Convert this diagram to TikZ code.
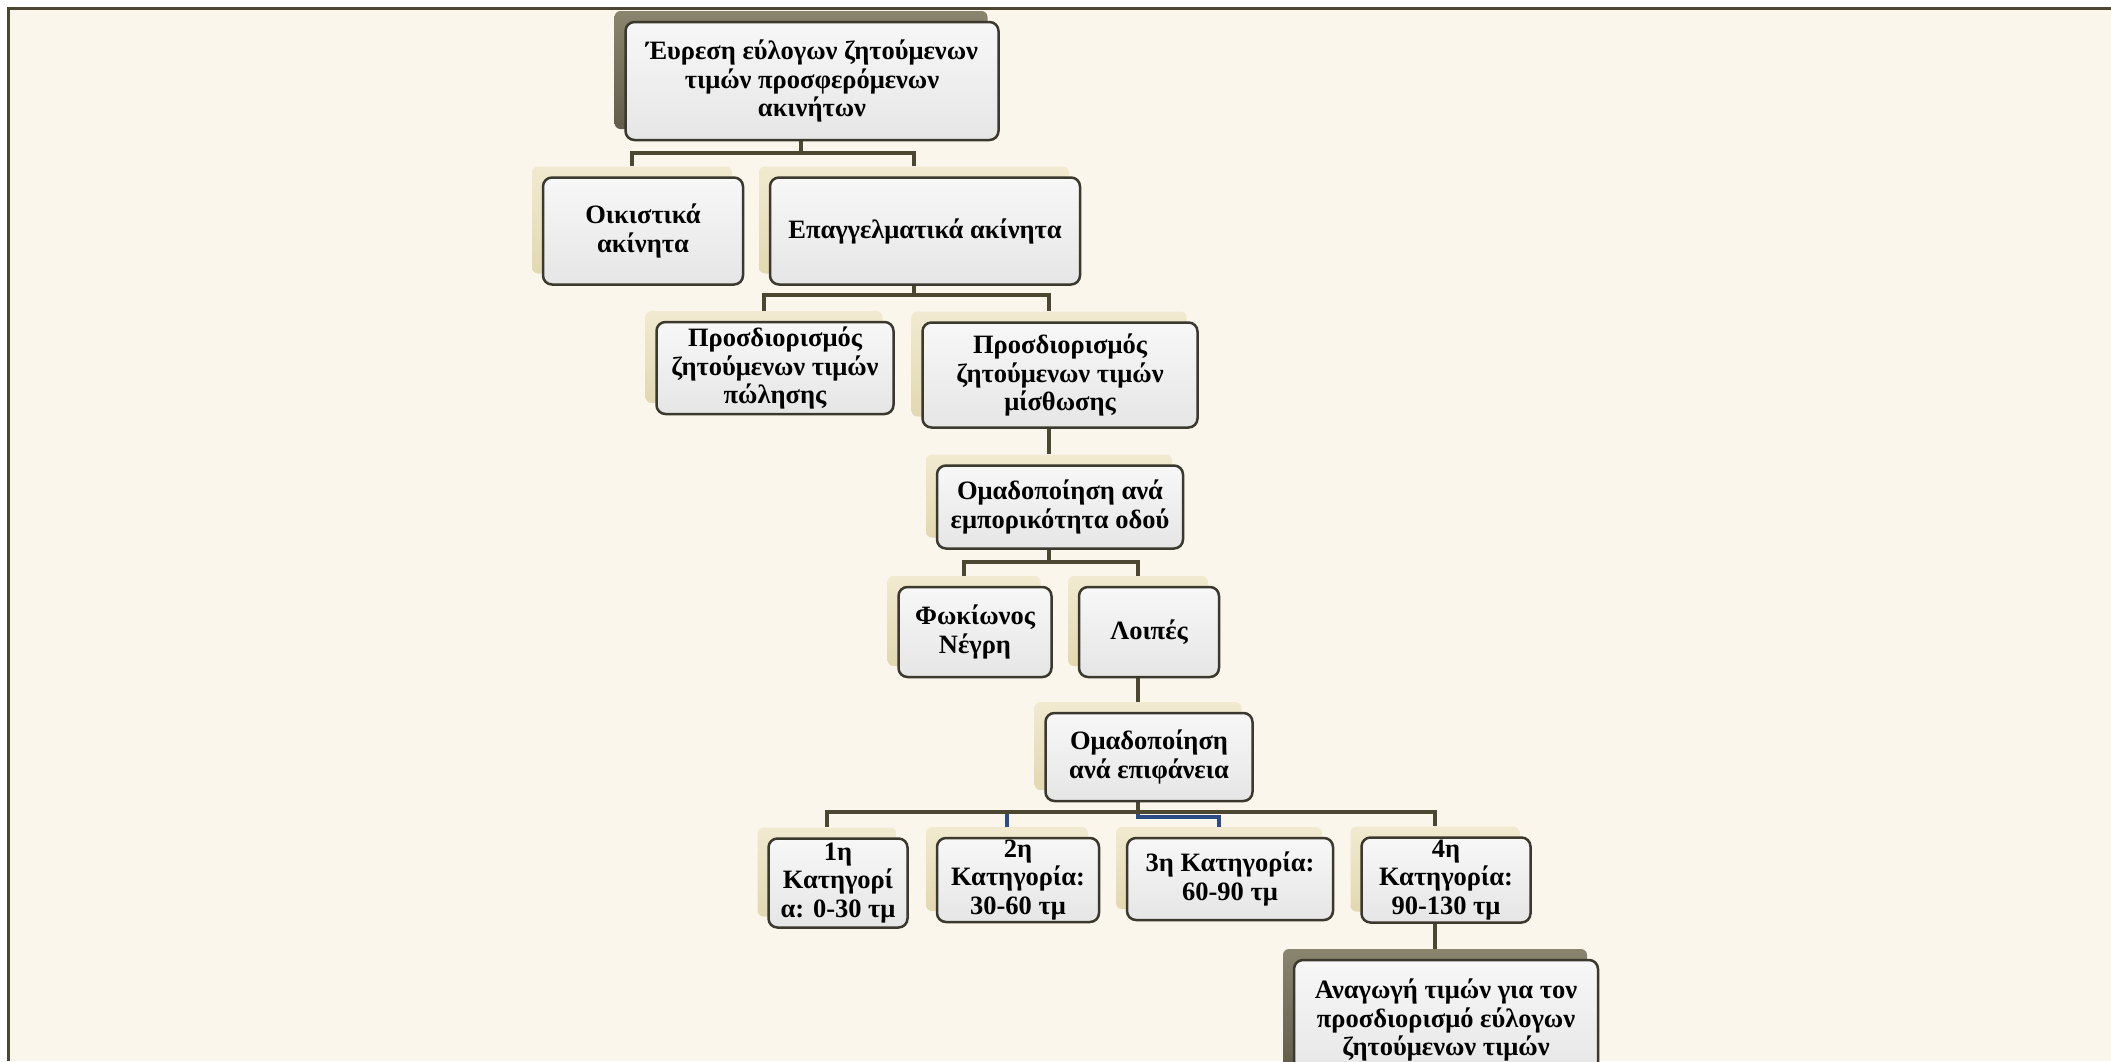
\documentclass[tikz,border=0pt]{standalone}
\usepackage{fontspec}
\setmainfont{Liberation Serif}
\usetikzlibrary{shadings}
\definecolor{bgcream}{HTML}{FAF6EC}
\definecolor{framecol}{HTML}{4A4632}
\definecolor{linecol}{HTML}{4B4731}
\definecolor{linblue}{HTML}{2B4C86}
\definecolor{boxline}{HTML}{3B382D}
\definecolor{shtop}{HTML}{F1EAD0}
\definecolor{shbot}{HTML}{E2D8B1}
\definecolor{sdtop}{HTML}{8A856E}
\definecolor{sdbot}{HTML}{615D4A}
\tikzset{every picture/.style={line width=0.75pt}}

\begin{document}
\begin{tikzpicture}[x=1pt,y=1pt,yscale=-1,xscale=1,
  shlight/.style={rectangle, rounded corners=6pt, top color=shtop, bottom color=shbot, draw=none, inner sep=0pt},
  shdark/.style={rectangle, rounded corners=6pt, top color=sdtop, bottom color=sdbot, draw=none, inner sep=0pt},
  boxfront/.style={rectangle, rounded corners=9pt, draw=boxline, line width=2.5pt, top color=gray!6, bottom color=gray!20, inner xsep=2pt, inner ysep=0pt, align=center, font=\fontsize{26.5}{28.5}\selectfont\bfseries},
  conn/.style={draw=linecol, line width=4.5pt},
  connblue/.style={draw=linblue, line width=4pt}]
\path[use as bounding box] (0,0) rectangle (2111,1061);
\clip (0,0) rectangle (2111,1061);

%Shape: Background
\fill[bgcream] (8,8) rectangle (2111,1061);
\draw[framecol, line width=3pt] (2111,8) -- (8,8) -- (8,1061);

%Shape: Shadows
\node[shdark, minimum width=373pt, minimum height=118pt] (root) at (801,70) {};
\node[shlight, minimum width=200pt, minimum height=107pt] (oik) at (632,220) {};
\node[shlight, minimum width=310pt, minimum height=107pt] (epag) at (914,220) {};
\node[shlight, minimum width=237pt, minimum height=92pt] (pol) at (764,357) {};
\node[shlight, minimum width=275pt, minimum height=105pt] (mis) at (1049,364) {};
\node[shlight, minimum width=246pt, minimum height=83pt] (odou) at (1049,496) {};
\node[shlight, minimum width=153pt, minimum height=90pt] (fok) at (964,621) {};
\node[shlight, minimum width=140pt, minimum height=90pt] (loip) at (1138,621) {};
\node[shlight, minimum width=207pt, minimum height=88pt] (epif) at (1138,746) {};
\node[shlight, minimum width=139pt, minimum height=89pt] (cat1) at (827,872) {};
\node[shlight, minimum width=162pt, minimum height=84pt] (cat2) at (1007,869) {};
\node[shlight, minimum width=206pt, minimum height=82pt] (cat3) at (1219,868) {};
\node[shlight, minimum width=169pt, minimum height=85pt] (cat4) at (1435,869) {};
\node[shdark, minimum width=304pt, minimum height=120pt] (anag) at (1435,1009) {};

%Straight Lines
\coordinate (bus1) at (0,153);
\coordinate (bus2) at (0,295);
\coordinate (bus4) at (0,562);
\coordinate (bus6) at (0,812);
\coordinate (bus6b) at (0,817);
\draw[conn] (root.south) -- (root.south |- bus1) -| (oik.north);
\draw[conn] (root.south) -- (root.south |- bus1) -| (epag.north);
\draw[conn] (epag.south) -- (epag.south |- bus2) -| (pol.north);
\draw[conn] (epag.south) -- (epag.south |- bus2) -| (mis.north);
\draw[conn] (mis.south) -- (odou.north);
\draw[conn] (odou.south) -- (odou.south |- bus4) -| (fok.north);
\draw[conn] (odou.south) -- (odou.south |- bus4) -| (loip.north);
\draw[conn] (loip.south) -- (epif.north);
\draw[connblue] (epif.south) -- (epif.south |- bus6) -| (cat2.north);
\draw[connblue] (epif.south) -- (epif.south |- bus6b) -| (cat3.north);
\draw[conn] (epif.south) -- (epif.south |- bus6) -| (cat1.north);
\draw[conn] (epif.south) -- (epif.south |- bus6) -| (cat4.north);
\draw[conn] (cat4.south) -- (anag.north);

% Text Node
\node[boxfront, minimum width=373pt, minimum height=118pt] (root-t) at (812,81) {Έυρεση εύλογων ζητούμενων\\τιμών προσφερόμενων\\ακινήτων};
% Text Node
\node[boxfront, minimum width=200pt, minimum height=107pt] (oik-t) at (643,231) {Οικιστικά\\ακίνητα};
% Text Node
\node[boxfront, minimum width=310pt, minimum height=107pt] (epag-t) at (925,231) {Επαγγελματικά ακίνητα};
% Text Node
\node[boxfront, minimum width=237pt, minimum height=92pt] (pol-t) at (775,368) {Προσδιορισμός\\ζητούμενων τιμών\\πώλησης};
% Text Node
\node[boxfront, minimum width=275pt, minimum height=105pt] (mis-t) at (1060,375) {Προσδιορισμός\\ζητούμενων τιμών\\μίσθωσης};
% Text Node
\node[boxfront, minimum width=246pt, minimum height=83pt] (odou-t) at (1060,507) {Ομαδοποίηση ανά\\εμπορικότητα οδού};
% Text Node
\node[boxfront, minimum width=153pt, minimum height=90pt] (fok-t) at (975,632) {Φωκίωνος\\Νέγρη};
% Text Node
\node[boxfront, minimum width=140pt, minimum height=90pt] (loip-t) at (1149,632) {Λοιπές};
% Text Node
\node[boxfront, minimum width=207pt, minimum height=88pt] (epif-t) at (1149,757) {Ομαδοποίηση\\ανά επιφάνεια};
% Text Node
\node[boxfront, minimum width=139pt, minimum height=89pt] (cat1-t) at (838,883) {1η\\Κατηγορί\\α: 0-30 τμ};
% Text Node
\node[boxfront, minimum width=162pt, minimum height=84pt] (cat2-t) at (1018,880) {2η\\Κατηγορία:\\30-60 τμ};
% Text Node
\node[boxfront, minimum width=206pt, minimum height=82pt] (cat3-t) at (1230,879) {3η Κατηγορία:\\60-90 τμ};
% Text Node
\node[boxfront, minimum width=169pt, minimum height=85pt] (cat4-t) at (1446,880) {4η\\Κατηγορία:\\90-130 τμ};
% Text Node
\node[boxfront, minimum width=304pt, minimum height=120pt] (anag-t) at (1446,1020) {Αναγωγή τιμών για τον\\προσδιορισμό εύλογων\\ζητούμενων τιμών};

\end{tikzpicture}
\end{document}
